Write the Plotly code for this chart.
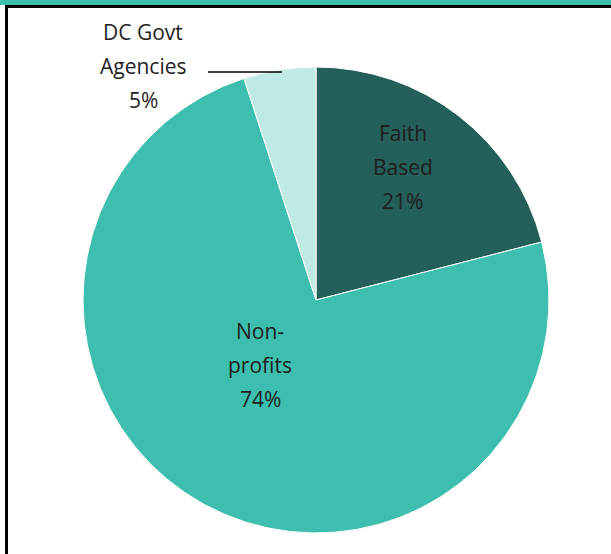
import plotly.graph_objects as go

labels = ["Faith Based", "Non-profits", "DC Govt Agencies"]
values = [21, 74, 5]
label_lines = [["Faith", "Based"], ["Non-", "profits"], ["DC Govt", "Agencies"]]
colors = ["#245F5A", "#3DBEAE", "#BFE9E4"]

W, H = 611, 554
cx, cy, r = 316, 300, 233

fig = go.Figure(go.Pie(
    labels=labels, values=values, sort=False, direction="clockwise", rotation=0,
    marker=dict(colors=colors, line=dict(color="white", width=1)),
    textinfo="none", hoverinfo="label+percent", showlegend=False,
    domain=dict(x=[(cx - r) / W, (cx + r) / W], y=[(H - cy - r) / H, (H - cy + r) / H]),
))

def px(x, y):
    return x / W, 1 - y / H

# label anchor positions (pixel centres of first line) and line spacing
anchors = [(403, 133), (260, 331), (143, 32)]
spacing = 34
font = dict(family="Open Sans", size=21, color="#1e1e1e")
total = sum(values)
anns = []
for lines, v, (ax, ay) in zip(label_lines, values, anchors):
    texts = lines + [f"{round(100 * v / total)}%"]
    for i, t in enumerate(texts):
        x, y = px(ax, ay + i * spacing)
        anns.append(dict(text=t, x=x, y=y, xref="paper", yref="paper",
                         xanchor="center", yanchor="middle", showarrow=False, font=font))

shapes = [
    dict(type="rect", xref="paper", yref="paper", x0=0, x1=1, y0=1 - 5 / H, y1=1,
         fillcolor="#3DBEAE", line=dict(width=0), layer="above"),
    dict(type="line", xref="paper", yref="paper", x0=5 / W, x1=1, y0=1 - 6.5 / H, y1=1 - 6.5 / H,
         line=dict(color="black", width=3)),
    dict(type="line", xref="paper", yref="paper", x0=6.5 / W, x1=6.5 / W, y0=0, y1=1 - 5 / H,
         line=dict(color="black", width=3)),
    dict(type="line", xref="paper", yref="paper", x0=208 / W, x1=282 / W, y0=1 - 72 / H, y1=1 - 72 / H,
         line=dict(color="black", width=1.5)),
]

fig.update_layout(width=W, height=H, margin=dict(l=0, r=0, t=0, b=0),
                  paper_bgcolor="white", plot_bgcolor="white",
                  annotations=anns, shapes=shapes)
fig.write_html("out.html")
